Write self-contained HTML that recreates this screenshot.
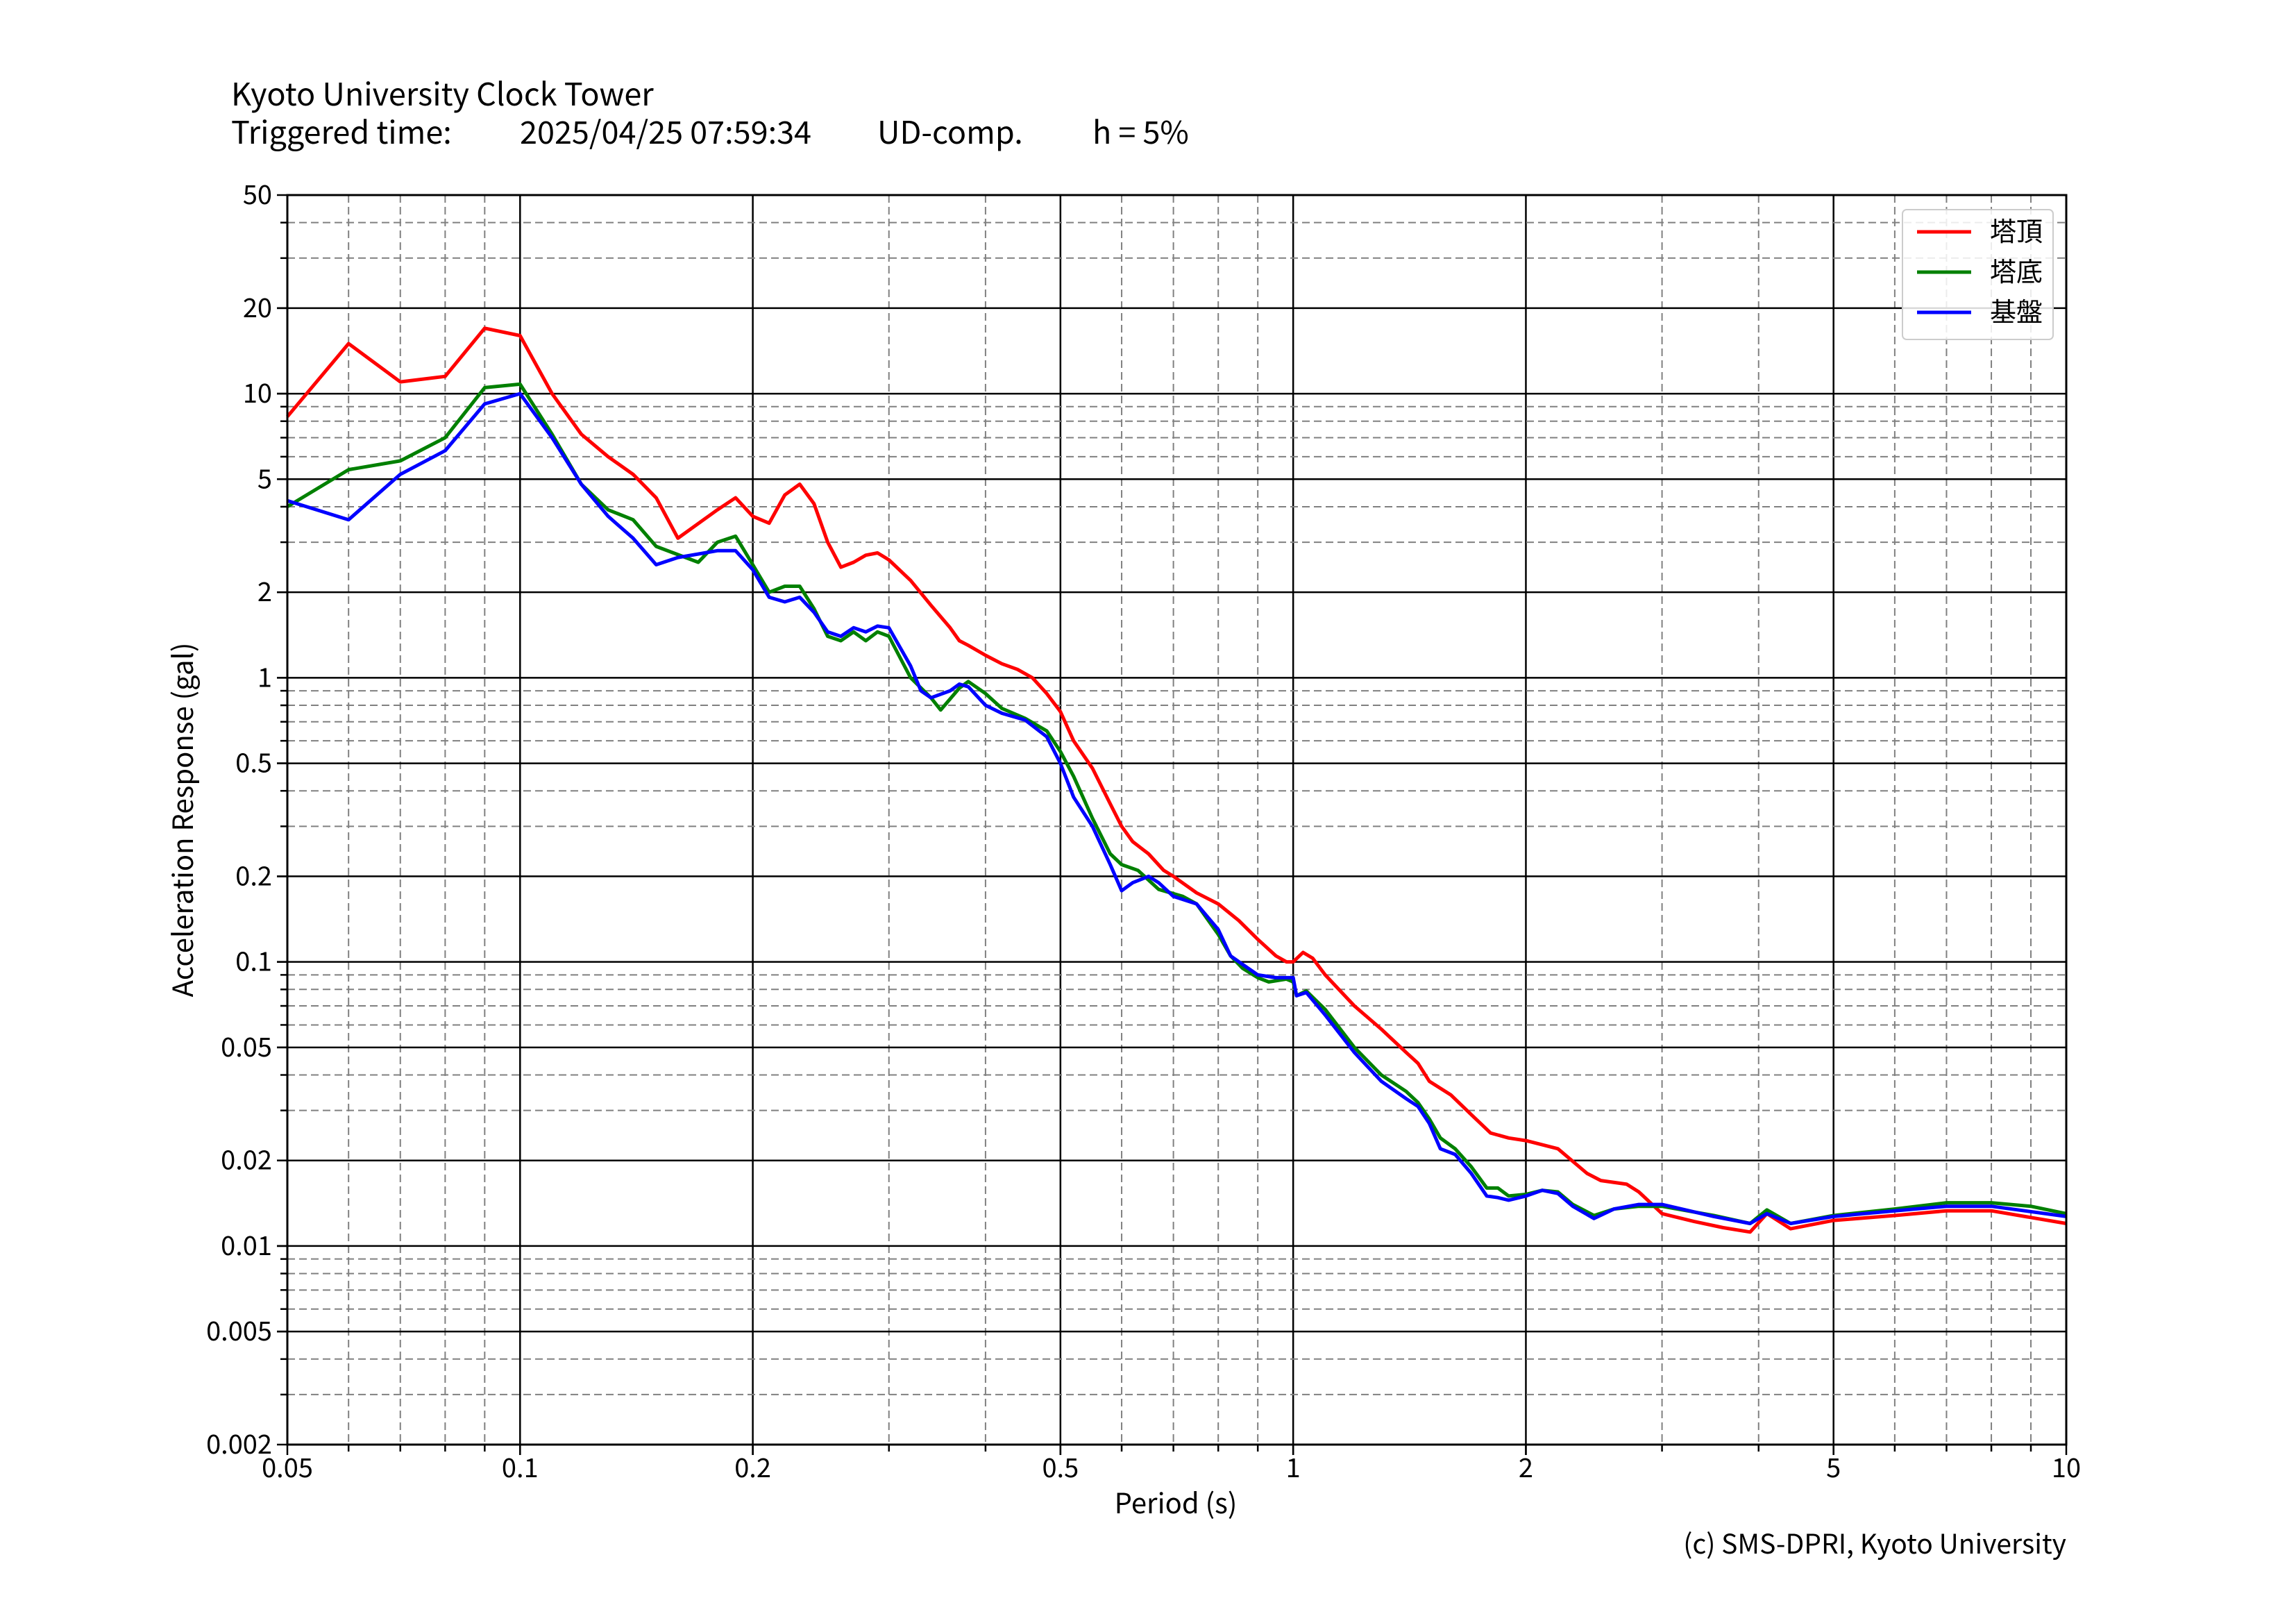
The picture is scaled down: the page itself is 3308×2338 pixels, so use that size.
<!DOCTYPE html>
<html><head><meta charset="utf-8"><style>
html,body{margin:0;padding:0;background:#fff;}
svg{display:block;font-family:"Noto Sans CJK JP","Liberation Sans",sans-serif;}
</style></head><body>
<svg id="chart" width="3308" height="2338" viewBox="0 0 3308 2338" xmlns="http://www.w3.org/2000/svg">
<rect width="3308" height="2338" fill="#fff"/>
<text x="333" y="152" font-size="45">Kyoto University Clock Tower</text>
<g font-size="45">
<text x="333" y="207">Triggered time:</text>
<text x="749" y="207">2025/04/25 07:59:34</text>
<text x="1264" y="207">UD-comp.</text>
<text x="1574" y="207">h = 5%</text>
</g>
<g id="grid"></g>
<g id="series"></g>
<rect x="414" y="281" width="2563" height="1800" fill="none" stroke="#000" stroke-width="3"/>
<g id="ticks" font-size="38"></g>
<text x="1694" y="2180" font-size="40" text-anchor="middle">Period (s)</text>
<text x="0" y="0" font-size="40" text-anchor="middle" transform="translate(278,1181) rotate(-90)">Acceleration Response (gal)</text>
<text x="2977" y="2238" font-size="39" text-anchor="end">(c) SMS-DPRI, Kyoto University</text>
<g>
<rect x="2741" y="302" width="217" height="187" rx="6" fill="#fff" fill-opacity="0.85" stroke="#ccc" stroke-width="2"/>
<g id="legend-items" font-size="38"></g>
</g>
</svg>
<script>
const xTicks=[0.05,0.1,0.2,0.5,1,2,5,10];
const xTickLabels=["0.05","0.1","0.2","0.5","1","2","5","10"];
const yTicks=[0.002,0.005,0.01,0.02,0.05,0.1,0.2,0.5,1,2,5,10,20,50];
const yTickLabels=["0.002","0.005","0.01","0.02","0.05","0.1","0.2","0.5","1","2","5","10","20","50"];
const seriesNames=["塔頂","塔底","基盤"];
const redT=[0.05,0.06,0.07,0.08,0.09,0.1,0.11,0.12,0.13,0.14,0.15,0.16,0.18,0.19,0.2,0.21,0.22,0.23,0.24,0.25,0.26,0.27,0.28,0.29,0.3,0.32,0.34,0.36,0.37,0.38,0.4,0.42,0.44,0.46,0.48,0.5,0.52,0.55,0.58,0.6,0.62,0.65,0.68,0.7,0.75,0.8,0.85,0.9,0.95,0.98,1.0,1.03,1.06,1.1,1.2,1.3,1.4,1.45,1.5,1.6,1.7,1.8,1.9,2.0,2.2,2.4,2.5,2.7,2.8,3.0,3.3,3.6,3.9,4.1,4.4,5.0,6.0,7.0,8.0,10];
const redV=[8.3,15,11,11.5,17,16,10,7.2,6.0,5.2,4.3,3.1,3.9,4.3,3.7,3.5,4.4,4.8,4.1,3.0,2.45,2.55,2.7,2.75,2.6,2.2,1.8,1.5,1.35,1.3,1.2,1.12,1.07,1.0,0.88,0.76,0.6,0.48,0.36,0.3,0.265,0.24,0.21,0.2,0.175,0.16,0.14,0.12,0.105,0.1,0.1,0.108,0.103,0.09,0.07,0.058,0.048,0.044,0.038,0.034,0.029,0.025,0.024,0.0235,0.022,0.018,0.017,0.0165,0.0155,0.013,0.0122,0.0116,0.0112,0.013,0.0115,0.0123,0.0128,0.0133,0.0133,0.012];
const greenT=[0.05,0.06,0.07,0.08,0.09,0.1,0.11,0.12,0.13,0.14,0.15,0.17,0.18,0.19,0.2,0.21,0.22,0.23,0.24,0.25,0.26,0.27,0.28,0.29,0.3,0.32,0.34,0.35,0.37,0.38,0.4,0.42,0.45,0.48,0.5,0.52,0.55,0.58,0.6,0.63,0.67,0.72,0.75,0.8,0.83,0.86,0.9,0.93,0.98,1.0,1.01,1.04,1.1,1.2,1.3,1.4,1.45,1.5,1.55,1.62,1.7,1.78,1.84,1.9,2.0,2.1,2.2,2.3,2.45,2.6,2.8,3.0,3.5,3.9,4.1,4.4,5.0,6.0,7.0,8.0,9.0,10];
const greenV=[4.0,5.4,5.8,7.0,10.5,10.8,7.2,4.8,3.9,3.6,2.9,2.55,3.0,3.15,2.5,2.0,2.1,2.1,1.75,1.4,1.35,1.45,1.35,1.45,1.4,1.0,0.85,0.77,0.92,0.97,0.88,0.78,0.72,0.65,0.55,0.45,0.32,0.24,0.22,0.21,0.18,0.17,0.16,0.125,0.105,0.095,0.088,0.085,0.087,0.085,0.076,0.079,0.068,0.05,0.04,0.035,0.032,0.028,0.024,0.022,0.019,0.016,0.016,0.015,0.0152,0.0157,0.0155,0.014,0.0128,0.0135,0.0138,0.0138,0.0128,0.012,0.0134,0.012,0.0128,0.0135,0.0142,0.0142,0.0138,0.013];
const blueT=[0.05,0.06,0.07,0.08,0.09,0.1,0.11,0.12,0.13,0.14,0.15,0.16,0.18,0.19,0.2,0.21,0.22,0.23,0.24,0.25,0.26,0.27,0.28,0.29,0.3,0.32,0.33,0.34,0.36,0.37,0.38,0.4,0.42,0.45,0.48,0.5,0.52,0.55,0.58,0.6,0.62,0.65,0.67,0.7,0.75,0.8,0.83,0.86,0.9,0.95,1.0,1.01,1.04,1.1,1.2,1.3,1.4,1.45,1.5,1.55,1.62,1.7,1.78,1.84,1.9,2.0,2.1,2.2,2.3,2.45,2.6,2.8,3.0,3.5,3.9,4.1,4.4,5.0,6.0,7.0,8.0,10];
const blueV=[4.2,3.6,5.2,6.3,9.2,10.0,7.0,4.8,3.7,3.1,2.5,2.65,2.8,2.8,2.4,1.92,1.85,1.92,1.7,1.45,1.4,1.5,1.45,1.52,1.5,1.1,0.9,0.85,0.9,0.95,0.93,0.8,0.75,0.71,0.62,0.5,0.38,0.3,0.22,0.178,0.19,0.2,0.19,0.17,0.16,0.13,0.105,0.098,0.09,0.088,0.088,0.076,0.078,0.065,0.048,0.038,0.033,0.031,0.027,0.022,0.021,0.018,0.015,0.0148,0.0145,0.015,0.0157,0.0153,0.0138,0.0125,0.0135,0.014,0.014,0.0127,0.012,0.013,0.012,0.0127,0.0133,0.0138,0.0138,0.0127];

const NS="http://www.w3.org/2000/svg";
const L=414,R=2977,T=281,B=2081;
const XMIN=0.05,XMAX=10,YMIN=0.002,YMAX=50;
function xs(v){return L+(R-L)*Math.log10(v/XMIN)/Math.log10(XMAX/XMIN);}
function ys(v){return B-(B-T)*Math.log10(v/YMIN)/Math.log10(YMAX/YMIN);}
function mk(tag,attrs,parent){const e=document.createElementNS(NS,tag);for(const k in attrs)e.setAttribute(k,attrs[k]);parent.appendChild(e);return e;}
const grid=document.getElementById('grid');
const ticks=document.getElementById('ticks');
for(let d=-2;d<=1;d++){for(let m=1;m<10;m++){const v=m*Math.pow(10,d);if(v<=XMIN||v>=XMAX)continue;
  const major=(m===1||m===2||m===5);const x=xs(v);
  const ln=mk('line',{x1:x,x2:x,y1:T,y2:B,stroke:major?'#000':'#808080','stroke-width':major?2.5:2,'stroke-dasharray':major?'none':'11 6'},grid);
  
  
  mk('line',{x1:x,x2:x,y1:B,y2:B+(major?15:10),stroke:'#000','stroke-width':2.5},ticks);
}}
for(let d=-3;d<=1;d++){for(let m=1;m<10;m++){const v=m*Math.pow(10,d);if(v<=YMIN*1.0001||v>=YMAX*0.9999)continue;
  const major=(m===1||m===2||m===5);const y=ys(v);
  const ln=mk('line',{x1:L,x2:R,y1:y,y2:y,stroke:major?'#000':'#808080','stroke-width':major?2.5:2,'stroke-dasharray':major?'none':'11 6'},grid);
  
  
  mk('line',{x1:L-(major?15:10),x2:L,y1:y,y2:y,stroke:'#000','stroke-width':2.5},ticks);
}}
xTicks.forEach((v,i)=>{const t=mk('text',{x:xs(v),y:B+47,'text-anchor':'middle'},ticks);t.textContent=xTickLabels[i];
  
  
  mk('line',{x1:xs(v),x2:xs(v),y1:B,y2:B+15,stroke:'#000','stroke-width':2.5},ticks);});
yTicks.forEach((v,i)=>{const t=mk('text',{x:L-22,y:ys(v)+13,'text-anchor':'end'},ticks);t.textContent=yTickLabels[i];
  
  
  mk('line',{x1:L-15,x2:L,y1:ys(v),y2:ys(v),stroke:'#000','stroke-width':2.5},ticks);});
const series=document.getElementById('series');
const defs=[[redT,redV,'#ff0000','series-tower-top'],[greenT,greenV,'#008000','series-tower-base'],[blueT,blueV,'#0000ff','series-bedrock']];
defs.forEach(([ts,vs,c,n])=>{let d='';ts.forEach((t,i)=>{d+=(i?'L':'M')+xs(t).toFixed(1)+','+ys(vs[i]).toFixed(1);});
  const p=mk('path',{d:d,fill:'none',stroke:c,'stroke-width':5,'stroke-linejoin':'round'},series);
  
  });
const li=document.getElementById('legend-items');
defs.forEach(([ts,vs,c,n],i)=>{const y=334+i*58;
  mk('line',{x1:2762,x2:2840,y1:y,y2:y,stroke:c,'stroke-width':5},li);
  const t=mk('text',{x:2867,y:y+13},li);t.textContent=seriesNames[i];
  
  });
</script>
</body></html>
